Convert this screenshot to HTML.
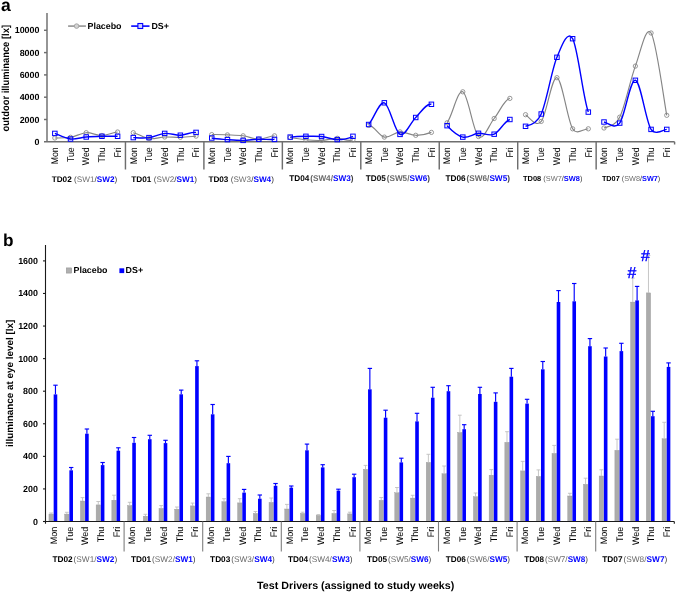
<!DOCTYPE html><html><head><meta charset="utf-8"><style>html,body{margin:0;padding:0;background:#fff;}svg{display:block;will-change:transform;}text{font-family:"Liberation Sans", sans-serif;text-rendering:geometricPrecision;}</style></head><body>
<svg width="685" height="592" viewBox="0 0 685 592">
<rect width="685" height="592" fill="#fff"/>
<text x="1.1" y="10.8" font-size="17.5" font-weight="bold" fill="#000">a</text>
<g stroke="#6e6e6e" stroke-width="1.45" fill="none">
<line x1="47.00" y1="13" x2="47.00" y2="141.80"/>
<line x1="44" y1="141.80" x2="674.60" y2="141.80"/>
<line x1="674.60" y1="141.80" x2="674.60" y2="144.5"/>
<line x1="44" y1="119.50" x2="47.00" y2="119.50"/>
<line x1="44" y1="97.20" x2="47.00" y2="97.20"/>
<line x1="44" y1="74.90" x2="47.00" y2="74.90"/>
<line x1="44" y1="52.60" x2="47.00" y2="52.60"/>
<line x1="44" y1="30.30" x2="47.00" y2="30.30"/>
<line x1="125.45" y1="141.80" x2="125.45" y2="169.5"/>
<line x1="203.90" y1="141.80" x2="203.90" y2="169.5"/>
<line x1="282.35" y1="141.80" x2="282.35" y2="169.5"/>
<line x1="360.80" y1="141.80" x2="360.80" y2="169.5"/>
<line x1="439.25" y1="141.80" x2="439.25" y2="169.5"/>
<line x1="517.70" y1="141.80" x2="517.70" y2="169.5"/>
<line x1="596.15" y1="141.80" x2="596.15" y2="169.5"/>
</g>
<g font-size="8.9" font-weight="bold" fill="#000" text-anchor="end">
<text x="39.4" y="144.80">0</text>
<text x="39.4" y="122.50">2000</text>
<text x="39.4" y="100.20">4000</text>
<text x="39.4" y="77.90">6000</text>
<text x="39.4" y="55.60">8000</text>
<text x="39.4" y="33.30">10000</text>
</g>
<text transform="translate(8.7,78.2) rotate(-90) scale(0.922,1)" font-size="10.2" font-weight="bold" text-anchor="middle" fill="#000">outdoor illuminance [lx]</text>
<g font-size="9.8" fill="#000" text-anchor="end">
<text transform="translate(58.05,147.4) rotate(-90) scale(0.89,1)">Mon</text>
<text transform="translate(73.73,147.4) rotate(-90) scale(0.89,1)">Tue</text>
<text transform="translate(89.42,147.4) rotate(-90) scale(0.89,1)">Wed</text>
<text transform="translate(105.12,147.4) rotate(-90) scale(0.89,1)">Thu</text>
<text transform="translate(120.81,147.4) rotate(-90) scale(0.89,1)">Fri</text>
<text transform="translate(136.50,147.4) rotate(-90) scale(0.89,1)">Mon</text>
<text transform="translate(152.19,147.4) rotate(-90) scale(0.89,1)">Tue</text>
<text transform="translate(167.88,147.4) rotate(-90) scale(0.89,1)">Wed</text>
<text transform="translate(183.56,147.4) rotate(-90) scale(0.89,1)">Thu</text>
<text transform="translate(199.25,147.4) rotate(-90) scale(0.89,1)">Fri</text>
<text transform="translate(214.94,147.4) rotate(-90) scale(0.89,1)">Mon</text>
<text transform="translate(230.63,147.4) rotate(-90) scale(0.89,1)">Tue</text>
<text transform="translate(246.33,147.4) rotate(-90) scale(0.89,1)">Wed</text>
<text transform="translate(262.02,147.4) rotate(-90) scale(0.89,1)">Thu</text>
<text transform="translate(277.70,147.4) rotate(-90) scale(0.89,1)">Fri</text>
<text transform="translate(293.40,147.4) rotate(-90) scale(0.89,1)">Mon</text>
<text transform="translate(309.09,147.4) rotate(-90) scale(0.89,1)">Tue</text>
<text transform="translate(324.78,147.4) rotate(-90) scale(0.89,1)">Wed</text>
<text transform="translate(340.47,147.4) rotate(-90) scale(0.89,1)">Thu</text>
<text transform="translate(356.16,147.4) rotate(-90) scale(0.89,1)">Fri</text>
<text transform="translate(371.85,147.4) rotate(-90) scale(0.89,1)">Mon</text>
<text transform="translate(387.54,147.4) rotate(-90) scale(0.89,1)">Tue</text>
<text transform="translate(403.23,147.4) rotate(-90) scale(0.89,1)">Wed</text>
<text transform="translate(418.92,147.4) rotate(-90) scale(0.89,1)">Thu</text>
<text transform="translate(434.61,147.4) rotate(-90) scale(0.89,1)">Fri</text>
<text transform="translate(450.30,147.4) rotate(-90) scale(0.89,1)">Mon</text>
<text transform="translate(465.99,147.4) rotate(-90) scale(0.89,1)">Tue</text>
<text transform="translate(481.68,147.4) rotate(-90) scale(0.89,1)">Wed</text>
<text transform="translate(497.37,147.4) rotate(-90) scale(0.89,1)">Thu</text>
<text transform="translate(513.06,147.4) rotate(-90) scale(0.89,1)">Fri</text>
<text transform="translate(528.75,147.4) rotate(-90) scale(0.89,1)">Mon</text>
<text transform="translate(544.44,147.4) rotate(-90) scale(0.89,1)">Tue</text>
<text transform="translate(560.13,147.4) rotate(-90) scale(0.89,1)">Wed</text>
<text transform="translate(575.82,147.4) rotate(-90) scale(0.89,1)">Thu</text>
<text transform="translate(591.51,147.4) rotate(-90) scale(0.89,1)">Fri</text>
<text transform="translate(607.20,147.4) rotate(-90) scale(0.89,1)">Mon</text>
<text transform="translate(622.89,147.4) rotate(-90) scale(0.89,1)">Tue</text>
<text transform="translate(638.58,147.4) rotate(-90) scale(0.89,1)">Wed</text>
<text transform="translate(654.27,147.4) rotate(-90) scale(0.89,1)">Thu</text>
<text transform="translate(669.96,147.4) rotate(-90) scale(0.89,1)">Fri</text>
</g>
<text x="51.70" y="181.70" font-size="8.10" textLength="65.50" lengthAdjust="spacingAndGlyphs" fill="#000"><tspan font-weight="bold">TD02</tspan><tspan fill="#505050"> (</tspan><tspan fill="#6e6e6e">SW1</tspan><tspan fill="#303030">/</tspan><tspan font-weight="bold" fill="#0000ff">SW2</tspan><tspan fill="#303030">)</tspan></text>
<text x="131.30" y="181.70" font-size="8.10" textLength="65.80" lengthAdjust="spacingAndGlyphs" fill="#000"><tspan font-weight="bold">TD01</tspan><tspan fill="#505050"> (</tspan><tspan fill="#6e6e6e">SW2</tspan><tspan fill="#303030">/</tspan><tspan font-weight="bold" fill="#0000ff">SW1</tspan><tspan fill="#303030">)</tspan></text>
<text x="208.40" y="181.70" font-size="8.10" textLength="65.50" lengthAdjust="spacingAndGlyphs" fill="#000"><tspan font-weight="bold">TD03</tspan><tspan fill="#505050"> (</tspan><tspan fill="#6e6e6e">SW3</tspan><tspan fill="#303030">/</tspan><tspan font-weight="bold" fill="#0000ff">SW4</tspan><tspan fill="#303030">)</tspan></text>
<text x="289.20" y="181.00" font-size="8.25" font-weight="bold" textLength="64.30" lengthAdjust="spacingAndGlyphs" fill="#000"><tspan>TD04</tspan><tspan dx="0.9" fill="#5a5a5a">(</tspan><tspan fill="#6a6a6a">SW4/</tspan><tspan fill="#0000ff">SW3</tspan><tspan fill="#404040">)</tspan></text>
<text x="365.70" y="181.00" font-size="8.25" font-weight="bold" textLength="64.30" lengthAdjust="spacingAndGlyphs" fill="#000"><tspan>TD05</tspan><tspan dx="0.9" fill="#5a5a5a">(</tspan><tspan fill="#6a6a6a">SW5/</tspan><tspan fill="#0000ff">SW6</tspan><tspan fill="#404040">)</tspan></text>
<text x="445.40" y="181.00" font-size="8.25" font-weight="bold" textLength="64.60" lengthAdjust="spacingAndGlyphs" fill="#000"><tspan>TD06</tspan><tspan dx="0.9" fill="#5a5a5a">(</tspan><tspan fill="#6a6a6a">SW6/</tspan><tspan fill="#0000ff">SW5</tspan><tspan fill="#404040">)</tspan></text>
<text x="523.00" y="181.10" font-size="7.35" textLength="59.40" lengthAdjust="spacingAndGlyphs" fill="#000"><tspan font-weight="bold">TD08</tspan><tspan fill="#505050"> (</tspan><tspan fill="#6e6e6e">SW7</tspan><tspan fill="#303030">/</tspan><tspan font-weight="bold" fill="#0000ff">SW8</tspan><tspan fill="#303030">)</tspan></text>
<text x="601.90" y="181.20" font-size="7.25" textLength="58.40" lengthAdjust="spacingAndGlyphs" fill="#000"><tspan font-weight="bold">TD07</tspan><tspan fill="#505050"> (</tspan><tspan fill="#6e6e6e">SW8</tspan><tspan fill="#303030">/</tspan><tspan font-weight="bold" fill="#0000ff">SW7</tspan><tspan fill="#303030">)</tspan></text>
<line x1="68.1" y1="26.1" x2="85.9" y2="26.1" stroke="#9a9a9a" stroke-width="1.7"/>
<circle cx="76.6" cy="26.1" r="2.3" fill="#d4d4d4" stroke="#a0a0a0" stroke-width="0.9"/>
<text x="87.5" y="28.8" font-size="8.9" font-weight="bold" fill="#000">Placebo</text>
<line x1="131.2" y1="26.1" x2="149.5" y2="26.1" stroke="#0000ff" stroke-width="1.6"/>
<rect x="137.9" y="23.5" width="4.8" height="5" fill="#cfcfff" stroke="#0000ff" stroke-width="1.1"/>
<text x="151.4" y="28.8" font-size="8.9" font-weight="bold" fill="#000">DS+</text>
<path d="M54.84,138.00 C57.46,137.88 65.30,138.18 70.53,137.30 C75.77,136.42 80.99,133.00 86.22,132.70 C91.45,132.40 96.69,135.62 101.92,135.50 C107.15,135.38 112.38,132.47 117.61,132.00" fill="none" stroke="#858585" stroke-width="1.15"/>
<path d="M133.30,132.70 C138.53,133.80 143.76,137.88 148.99,138.60 C154.22,139.32 159.45,137.22 164.68,137.00 C169.91,136.78 175.14,137.45 180.37,137.30 C185.59,137.15 190.83,136.55 196.06,136.10" fill="none" stroke="#858585" stroke-width="1.15"/>
<path d="M211.75,134.60 C216.97,134.40 222.20,134.70 227.44,134.90 C232.67,135.10 237.90,135.08 243.13,135.80 C248.36,136.52 253.59,139.20 258.82,139.20 C264.05,139.20 269.27,136.08 274.50,135.80" fill="none" stroke="#858585" stroke-width="1.15"/>
<path d="M290.20,137.50 C295.43,138.17 300.66,139.32 305.89,139.80 C311.12,140.28 316.35,140.65 321.58,140.40 C326.81,140.15 332.04,138.40 337.27,138.30 C342.50,138.20 347.73,141.95 352.96,139.80" fill="none" stroke="#858585" stroke-width="1.15"/>
<path d="M368.65,125.40 C373.88,124.95 379.11,136.02 384.34,137.10 C389.57,138.18 394.80,132.20 400.03,131.90 C405.26,131.60 410.49,135.22 415.72,135.30 C420.95,135.38 426.18,134.48 431.41,132.40" fill="none" stroke="#858585" stroke-width="1.15"/>
<path d="M447.10,122.80 C452.33,116.03 457.56,89.52 462.79,91.80 C468.02,94.08 473.25,132.05 478.48,136.50 C483.71,140.95 488.94,124.85 494.17,118.50 C499.40,112.15 504.62,99.03 509.86,98.40" fill="none" stroke="#858585" stroke-width="1.15"/>
<path d="M525.55,114.70 C530.78,118.53 536.00,127.57 541.24,121.40 C546.47,115.23 551.70,76.47 556.93,77.70 C562.16,78.93 567.38,120.28 572.62,128.80 C576.72,135.49 583.08,128.93 588.31,128.80" fill="none" stroke="#858585" stroke-width="1.15"/>
<path d="M604.00,128.00 C609.23,126.07 615.38,125.69 619.69,117.20 C624.92,106.88 630.14,80.13 635.38,66.10 C640.61,52.07 645.84,24.80 651.07,33.00 C656.30,41.20 664.14,101.58 666.75,115.30" fill="none" stroke="#858585" stroke-width="1.15"/>
<circle cx="54.84" cy="138.00" r="2.15" fill="none" stroke="#858585" stroke-width="0.85"/>
<circle cx="70.53" cy="137.30" r="2.15" fill="none" stroke="#858585" stroke-width="0.85"/>
<circle cx="86.22" cy="132.70" r="2.15" fill="none" stroke="#858585" stroke-width="0.85"/>
<circle cx="101.92" cy="135.50" r="2.15" fill="none" stroke="#858585" stroke-width="0.85"/>
<circle cx="117.61" cy="132.00" r="2.15" fill="none" stroke="#858585" stroke-width="0.85"/>
<circle cx="133.30" cy="132.70" r="2.15" fill="none" stroke="#858585" stroke-width="0.85"/>
<circle cx="148.99" cy="138.60" r="2.15" fill="none" stroke="#858585" stroke-width="0.85"/>
<circle cx="164.68" cy="137.00" r="2.15" fill="none" stroke="#858585" stroke-width="0.85"/>
<circle cx="180.37" cy="137.30" r="2.15" fill="none" stroke="#858585" stroke-width="0.85"/>
<circle cx="196.06" cy="136.10" r="2.15" fill="none" stroke="#858585" stroke-width="0.85"/>
<circle cx="211.75" cy="134.60" r="2.15" fill="none" stroke="#858585" stroke-width="0.85"/>
<circle cx="227.44" cy="134.90" r="2.15" fill="none" stroke="#858585" stroke-width="0.85"/>
<circle cx="243.13" cy="135.80" r="2.15" fill="none" stroke="#858585" stroke-width="0.85"/>
<circle cx="258.82" cy="139.20" r="2.15" fill="none" stroke="#858585" stroke-width="0.85"/>
<circle cx="274.50" cy="135.80" r="2.15" fill="none" stroke="#858585" stroke-width="0.85"/>
<circle cx="290.20" cy="137.50" r="2.15" fill="none" stroke="#858585" stroke-width="0.85"/>
<circle cx="305.89" cy="139.80" r="2.15" fill="none" stroke="#858585" stroke-width="0.85"/>
<circle cx="321.58" cy="140.40" r="2.15" fill="none" stroke="#858585" stroke-width="0.85"/>
<circle cx="337.27" cy="138.30" r="2.15" fill="none" stroke="#858585" stroke-width="0.85"/>
<circle cx="352.96" cy="139.80" r="2.15" fill="none" stroke="#858585" stroke-width="0.85"/>
<circle cx="368.65" cy="125.40" r="2.15" fill="none" stroke="#858585" stroke-width="0.85"/>
<circle cx="384.34" cy="137.10" r="2.15" fill="none" stroke="#858585" stroke-width="0.85"/>
<circle cx="400.03" cy="131.90" r="2.15" fill="none" stroke="#858585" stroke-width="0.85"/>
<circle cx="415.72" cy="135.30" r="2.15" fill="none" stroke="#858585" stroke-width="0.85"/>
<circle cx="431.41" cy="132.40" r="2.15" fill="none" stroke="#858585" stroke-width="0.85"/>
<circle cx="447.10" cy="122.80" r="2.15" fill="none" stroke="#858585" stroke-width="0.85"/>
<circle cx="462.79" cy="91.80" r="2.15" fill="none" stroke="#858585" stroke-width="0.85"/>
<circle cx="478.48" cy="136.50" r="2.15" fill="none" stroke="#858585" stroke-width="0.85"/>
<circle cx="494.17" cy="118.50" r="2.15" fill="none" stroke="#858585" stroke-width="0.85"/>
<circle cx="509.86" cy="98.40" r="2.15" fill="none" stroke="#858585" stroke-width="0.85"/>
<circle cx="525.55" cy="114.70" r="2.15" fill="none" stroke="#858585" stroke-width="0.85"/>
<circle cx="541.24" cy="121.40" r="2.15" fill="none" stroke="#858585" stroke-width="0.85"/>
<circle cx="556.93" cy="77.70" r="2.15" fill="none" stroke="#858585" stroke-width="0.85"/>
<circle cx="572.62" cy="128.80" r="2.15" fill="none" stroke="#858585" stroke-width="0.85"/>
<circle cx="588.31" cy="128.80" r="2.15" fill="none" stroke="#858585" stroke-width="0.85"/>
<circle cx="604.00" cy="128.00" r="2.15" fill="none" stroke="#858585" stroke-width="0.85"/>
<circle cx="619.69" cy="117.20" r="2.15" fill="none" stroke="#858585" stroke-width="0.85"/>
<circle cx="635.38" cy="66.10" r="2.15" fill="none" stroke="#858585" stroke-width="0.85"/>
<circle cx="651.07" cy="33.00" r="2.15" fill="none" stroke="#858585" stroke-width="0.85"/>
<circle cx="666.75" cy="115.30" r="2.15" fill="none" stroke="#858585" stroke-width="0.85"/>
<path d="M54.84,133.40 C57.46,134.33 65.30,138.40 70.53,139.00 C75.77,139.60 80.99,137.45 86.22,137.00 C91.45,136.55 96.69,136.42 101.92,136.30 C107.15,136.18 112.38,136.08 117.61,136.30" fill="none" stroke="#0000ff" stroke-width="1.4"/>
<path d="M133.30,137.60 C138.53,137.82 143.76,138.30 148.99,137.60 C154.22,136.90 159.45,133.80 164.68,133.40 C169.91,133.00 175.14,135.37 180.37,135.20 C185.59,135.03 190.83,131.93 196.06,132.40" fill="none" stroke="#0000ff" stroke-width="1.4"/>
<path d="M211.75,138.00 C216.97,139.20 222.20,139.20 227.44,139.60 C232.67,140.00 237.90,140.47 243.13,140.40 C248.36,140.33 253.59,139.37 258.82,139.20 C264.05,139.03 269.27,139.75 274.50,139.40" fill="none" stroke="#0000ff" stroke-width="1.4"/>
<path d="M290.20,137.10 C295.43,136.58 300.66,136.40 305.89,136.30 C311.12,136.20 316.35,135.95 321.58,136.50 C326.81,137.05 332.04,139.63 337.27,139.60 C342.50,139.57 347.73,138.82 352.96,136.30" fill="none" stroke="#0000ff" stroke-width="1.4"/>
<path d="M368.65,124.50 C373.88,118.92 379.11,101.15 384.34,102.80 C389.57,104.45 394.80,131.95 400.03,134.40 C405.26,136.85 410.49,122.52 415.72,117.50 C420.95,112.48 426.18,102.93 431.41,104.30" fill="none" stroke="#0000ff" stroke-width="1.4"/>
<path d="M447.10,125.70 C452.33,131.17 457.56,135.83 462.79,137.10 C468.02,138.37 473.25,133.78 478.48,133.30 C483.71,132.82 488.94,136.50 494.17,134.20 C499.40,131.90 504.62,120.82 509.86,119.50" fill="none" stroke="#0000ff" stroke-width="1.4"/>
<path d="M525.55,126.30 C530.78,125.38 537.11,123.07 541.24,114.00 C546.47,102.50 551.70,69.85 556.93,57.30 C561.61,46.07 567.38,29.57 572.62,38.70 C577.85,47.83 583.08,98.22 588.31,112.10" fill="none" stroke="#0000ff" stroke-width="1.4"/>
<path d="M604.00,122.00 C609.23,123.83 614.96,129.38 619.69,123.10 C624.92,116.15 630.14,79.25 635.38,80.30 C640.61,81.35 645.84,121.22 651.07,129.40 C655.29,136.01 664.14,129.40 666.75,129.40" fill="none" stroke="#0000ff" stroke-width="1.4"/>
<rect x="52.59" y="131.20" width="4.5" height="4.4" fill="none" stroke="#0000ff" stroke-width="1"/>
<rect x="68.28" y="136.80" width="4.5" height="4.4" fill="none" stroke="#0000ff" stroke-width="1"/>
<rect x="83.97" y="134.80" width="4.5" height="4.4" fill="none" stroke="#0000ff" stroke-width="1"/>
<rect x="99.67" y="134.10" width="4.5" height="4.4" fill="none" stroke="#0000ff" stroke-width="1"/>
<rect x="115.36" y="134.10" width="4.5" height="4.4" fill="none" stroke="#0000ff" stroke-width="1"/>
<rect x="131.05" y="135.40" width="4.5" height="4.4" fill="none" stroke="#0000ff" stroke-width="1"/>
<rect x="146.74" y="135.40" width="4.5" height="4.4" fill="none" stroke="#0000ff" stroke-width="1"/>
<rect x="162.43" y="131.20" width="4.5" height="4.4" fill="none" stroke="#0000ff" stroke-width="1"/>
<rect x="178.12" y="133.00" width="4.5" height="4.4" fill="none" stroke="#0000ff" stroke-width="1"/>
<rect x="193.81" y="130.20" width="4.5" height="4.4" fill="none" stroke="#0000ff" stroke-width="1"/>
<rect x="209.50" y="135.80" width="4.5" height="4.4" fill="none" stroke="#0000ff" stroke-width="1"/>
<rect x="225.19" y="137.40" width="4.5" height="4.4" fill="none" stroke="#0000ff" stroke-width="1"/>
<rect x="240.88" y="138.20" width="4.5" height="4.4" fill="none" stroke="#0000ff" stroke-width="1"/>
<rect x="256.57" y="137.00" width="4.5" height="4.4" fill="none" stroke="#0000ff" stroke-width="1"/>
<rect x="272.25" y="137.20" width="4.5" height="4.4" fill="none" stroke="#0000ff" stroke-width="1"/>
<rect x="287.95" y="134.90" width="4.5" height="4.4" fill="none" stroke="#0000ff" stroke-width="1"/>
<rect x="303.64" y="134.10" width="4.5" height="4.4" fill="none" stroke="#0000ff" stroke-width="1"/>
<rect x="319.33" y="134.30" width="4.5" height="4.4" fill="none" stroke="#0000ff" stroke-width="1"/>
<rect x="335.02" y="137.40" width="4.5" height="4.4" fill="none" stroke="#0000ff" stroke-width="1"/>
<rect x="350.71" y="134.10" width="4.5" height="4.4" fill="none" stroke="#0000ff" stroke-width="1"/>
<rect x="366.40" y="122.30" width="4.5" height="4.4" fill="none" stroke="#0000ff" stroke-width="1"/>
<rect x="382.09" y="100.60" width="4.5" height="4.4" fill="none" stroke="#0000ff" stroke-width="1"/>
<rect x="397.78" y="132.20" width="4.5" height="4.4" fill="none" stroke="#0000ff" stroke-width="1"/>
<rect x="413.47" y="115.30" width="4.5" height="4.4" fill="none" stroke="#0000ff" stroke-width="1"/>
<rect x="429.16" y="102.10" width="4.5" height="4.4" fill="none" stroke="#0000ff" stroke-width="1"/>
<rect x="444.85" y="123.50" width="4.5" height="4.4" fill="none" stroke="#0000ff" stroke-width="1"/>
<rect x="460.54" y="134.90" width="4.5" height="4.4" fill="none" stroke="#0000ff" stroke-width="1"/>
<rect x="476.23" y="131.10" width="4.5" height="4.4" fill="none" stroke="#0000ff" stroke-width="1"/>
<rect x="491.92" y="132.00" width="4.5" height="4.4" fill="none" stroke="#0000ff" stroke-width="1"/>
<rect x="507.61" y="117.30" width="4.5" height="4.4" fill="none" stroke="#0000ff" stroke-width="1"/>
<rect x="523.30" y="124.10" width="4.5" height="4.4" fill="none" stroke="#0000ff" stroke-width="1"/>
<rect x="538.99" y="111.80" width="4.5" height="4.4" fill="none" stroke="#0000ff" stroke-width="1"/>
<rect x="554.68" y="55.10" width="4.5" height="4.4" fill="none" stroke="#0000ff" stroke-width="1"/>
<rect x="570.37" y="36.50" width="4.5" height="4.4" fill="none" stroke="#0000ff" stroke-width="1"/>
<rect x="586.06" y="109.90" width="4.5" height="4.4" fill="none" stroke="#0000ff" stroke-width="1"/>
<rect x="601.75" y="119.80" width="4.5" height="4.4" fill="none" stroke="#0000ff" stroke-width="1"/>
<rect x="617.44" y="120.90" width="4.5" height="4.4" fill="none" stroke="#0000ff" stroke-width="1"/>
<rect x="633.12" y="78.10" width="4.5" height="4.4" fill="none" stroke="#0000ff" stroke-width="1"/>
<rect x="648.82" y="127.20" width="4.5" height="4.4" fill="none" stroke="#0000ff" stroke-width="1"/>
<rect x="664.50" y="127.20" width="4.5" height="4.4" fill="none" stroke="#0000ff" stroke-width="1"/>
<text x="2.9" y="246.1" font-size="17.2" font-weight="bold" fill="#000">b</text>
<rect x="66.3" y="267.9" width="5.4" height="5.2" fill="#b0b0b0" stroke="#909090" stroke-width="0.5"/>
<text x="73.6" y="273.4" font-size="8.85" font-weight="bold" fill="#000">Placebo</text>
<rect x="119.4" y="268.3" width="4.8" height="4.8" fill="#0000ff"/>
<text x="125.6" y="273.4" font-size="8.85" font-weight="bold" fill="#000">DS+</text>
<rect x="48.96" y="514.10" width="4.3" height="7.40" fill="#ababab" stroke="#999" stroke-width="0.4"/>
<line x1="51.11" y1="514.10" x2="51.11" y2="513.00" stroke="#c0c0c0" stroke-width="0.9"/>
<line x1="49.21" y1="513.00" x2="53.01" y2="513.00" stroke="#c0c0c0" stroke-width="0.9"/>
<rect x="53.66" y="394.40" width="3.6" height="127.10" fill="#0000ff"/>
<line x1="55.46" y1="394.40" x2="55.46" y2="385.20" stroke="#0000ff" stroke-width="1.15"/>
<line x1="53.26" y1="385.20" x2="57.66" y2="385.20" stroke="#0000ff" stroke-width="1.15"/>
<rect x="64.68" y="514.10" width="4.3" height="7.40" fill="#ababab" stroke="#999" stroke-width="0.4"/>
<line x1="66.83" y1="514.10" x2="66.83" y2="512.30" stroke="#c0c0c0" stroke-width="0.9"/>
<line x1="64.93" y1="512.30" x2="68.73" y2="512.30" stroke="#c0c0c0" stroke-width="0.9"/>
<rect x="69.38" y="470.30" width="3.6" height="51.20" fill="#0000ff"/>
<line x1="71.18" y1="470.30" x2="71.18" y2="467.50" stroke="#0000ff" stroke-width="1.15"/>
<line x1="68.98" y1="467.50" x2="73.38" y2="467.50" stroke="#0000ff" stroke-width="1.15"/>
<rect x="80.40" y="501.00" width="4.3" height="20.50" fill="#ababab" stroke="#999" stroke-width="0.4"/>
<line x1="82.55" y1="501.00" x2="82.55" y2="497.60" stroke="#c0c0c0" stroke-width="0.9"/>
<line x1="80.65" y1="497.60" x2="84.45" y2="497.60" stroke="#c0c0c0" stroke-width="0.9"/>
<rect x="85.10" y="433.70" width="3.6" height="87.80" fill="#0000ff"/>
<line x1="86.90" y1="433.70" x2="86.90" y2="429.00" stroke="#0000ff" stroke-width="1.15"/>
<line x1="84.70" y1="429.00" x2="89.10" y2="429.00" stroke="#0000ff" stroke-width="1.15"/>
<rect x="96.12" y="504.90" width="4.3" height="16.60" fill="#ababab" stroke="#999" stroke-width="0.4"/>
<line x1="98.27" y1="504.90" x2="98.27" y2="501.50" stroke="#c0c0c0" stroke-width="0.9"/>
<line x1="96.37" y1="501.50" x2="100.17" y2="501.50" stroke="#c0c0c0" stroke-width="0.9"/>
<rect x="100.82" y="465.10" width="3.6" height="56.40" fill="#0000ff"/>
<line x1="102.62" y1="465.10" x2="102.62" y2="462.50" stroke="#0000ff" stroke-width="1.15"/>
<line x1="100.42" y1="462.50" x2="104.82" y2="462.50" stroke="#0000ff" stroke-width="1.15"/>
<rect x="111.84" y="500.20" width="4.3" height="21.30" fill="#ababab" stroke="#999" stroke-width="0.4"/>
<line x1="113.99" y1="500.20" x2="113.99" y2="495.20" stroke="#c0c0c0" stroke-width="0.9"/>
<line x1="112.09" y1="495.20" x2="115.89" y2="495.20" stroke="#c0c0c0" stroke-width="0.9"/>
<rect x="116.54" y="450.70" width="3.6" height="70.80" fill="#0000ff"/>
<line x1="118.34" y1="450.70" x2="118.34" y2="447.80" stroke="#0000ff" stroke-width="1.15"/>
<line x1="116.14" y1="447.80" x2="120.54" y2="447.80" stroke="#0000ff" stroke-width="1.15"/>
<rect x="127.56" y="505.60" width="4.3" height="15.90" fill="#ababab" stroke="#999" stroke-width="0.4"/>
<line x1="129.71" y1="505.60" x2="129.71" y2="502.30" stroke="#c0c0c0" stroke-width="0.9"/>
<line x1="127.81" y1="502.30" x2="131.61" y2="502.30" stroke="#c0c0c0" stroke-width="0.9"/>
<rect x="132.26" y="442.80" width="3.6" height="78.70" fill="#0000ff"/>
<line x1="134.06" y1="442.80" x2="134.06" y2="437.50" stroke="#0000ff" stroke-width="1.15"/>
<line x1="131.86" y1="437.50" x2="136.26" y2="437.50" stroke="#0000ff" stroke-width="1.15"/>
<rect x="143.28" y="516.20" width="4.3" height="5.30" fill="#ababab" stroke="#999" stroke-width="0.4"/>
<line x1="145.43" y1="516.20" x2="145.43" y2="514.30" stroke="#c0c0c0" stroke-width="0.9"/>
<line x1="143.53" y1="514.30" x2="147.33" y2="514.30" stroke="#c0c0c0" stroke-width="0.9"/>
<rect x="147.98" y="439.20" width="3.6" height="82.30" fill="#0000ff"/>
<line x1="149.78" y1="439.20" x2="149.78" y2="435.30" stroke="#0000ff" stroke-width="1.15"/>
<line x1="147.58" y1="435.30" x2="151.98" y2="435.30" stroke="#0000ff" stroke-width="1.15"/>
<rect x="159.00" y="508.40" width="4.3" height="13.10" fill="#ababab" stroke="#999" stroke-width="0.4"/>
<line x1="161.15" y1="508.40" x2="161.15" y2="505.60" stroke="#c0c0c0" stroke-width="0.9"/>
<line x1="159.25" y1="505.60" x2="163.05" y2="505.60" stroke="#c0c0c0" stroke-width="0.9"/>
<rect x="163.70" y="443.10" width="3.6" height="78.40" fill="#0000ff"/>
<line x1="165.50" y1="443.10" x2="165.50" y2="440.30" stroke="#0000ff" stroke-width="1.15"/>
<line x1="163.30" y1="440.30" x2="167.70" y2="440.30" stroke="#0000ff" stroke-width="1.15"/>
<rect x="174.72" y="509.20" width="4.3" height="12.30" fill="#ababab" stroke="#999" stroke-width="0.4"/>
<line x1="176.87" y1="509.20" x2="176.87" y2="507.00" stroke="#c0c0c0" stroke-width="0.9"/>
<line x1="174.97" y1="507.00" x2="178.77" y2="507.00" stroke="#c0c0c0" stroke-width="0.9"/>
<rect x="179.42" y="394.30" width="3.6" height="127.20" fill="#0000ff"/>
<line x1="181.22" y1="394.30" x2="181.22" y2="390.10" stroke="#0000ff" stroke-width="1.15"/>
<line x1="179.02" y1="390.10" x2="183.42" y2="390.10" stroke="#0000ff" stroke-width="1.15"/>
<rect x="190.44" y="505.90" width="4.3" height="15.60" fill="#ababab" stroke="#999" stroke-width="0.4"/>
<line x1="192.59" y1="505.90" x2="192.59" y2="503.10" stroke="#c0c0c0" stroke-width="0.9"/>
<line x1="190.69" y1="503.10" x2="194.49" y2="503.10" stroke="#c0c0c0" stroke-width="0.9"/>
<rect x="195.14" y="366.10" width="3.6" height="155.40" fill="#0000ff"/>
<line x1="196.94" y1="366.10" x2="196.94" y2="360.80" stroke="#0000ff" stroke-width="1.15"/>
<line x1="194.74" y1="360.80" x2="199.14" y2="360.80" stroke="#0000ff" stroke-width="1.15"/>
<rect x="206.16" y="497.00" width="4.3" height="24.50" fill="#ababab" stroke="#999" stroke-width="0.4"/>
<line x1="208.31" y1="497.00" x2="208.31" y2="493.80" stroke="#c0c0c0" stroke-width="0.9"/>
<line x1="206.41" y1="493.80" x2="210.21" y2="493.80" stroke="#c0c0c0" stroke-width="0.9"/>
<rect x="210.86" y="414.30" width="3.6" height="107.20" fill="#0000ff"/>
<line x1="212.66" y1="414.30" x2="212.66" y2="404.50" stroke="#0000ff" stroke-width="1.15"/>
<line x1="210.46" y1="404.50" x2="214.86" y2="404.50" stroke="#0000ff" stroke-width="1.15"/>
<rect x="221.88" y="501.70" width="4.3" height="19.80" fill="#ababab" stroke="#999" stroke-width="0.4"/>
<line x1="224.03" y1="501.70" x2="224.03" y2="498.70" stroke="#c0c0c0" stroke-width="0.9"/>
<line x1="222.13" y1="498.70" x2="225.93" y2="498.70" stroke="#c0c0c0" stroke-width="0.9"/>
<rect x="226.58" y="463.20" width="3.6" height="58.30" fill="#0000ff"/>
<line x1="228.38" y1="463.20" x2="228.38" y2="456.40" stroke="#0000ff" stroke-width="1.15"/>
<line x1="226.18" y1="456.40" x2="230.58" y2="456.40" stroke="#0000ff" stroke-width="1.15"/>
<rect x="237.60" y="502.90" width="4.3" height="18.60" fill="#ababab" stroke="#999" stroke-width="0.4"/>
<line x1="239.75" y1="502.90" x2="239.75" y2="498.70" stroke="#c0c0c0" stroke-width="0.9"/>
<line x1="237.85" y1="498.70" x2="241.65" y2="498.70" stroke="#c0c0c0" stroke-width="0.9"/>
<rect x="242.30" y="492.60" width="3.6" height="28.90" fill="#0000ff"/>
<line x1="244.10" y1="492.60" x2="244.10" y2="489.40" stroke="#0000ff" stroke-width="1.15"/>
<line x1="241.90" y1="489.40" x2="246.30" y2="489.40" stroke="#0000ff" stroke-width="1.15"/>
<rect x="253.32" y="513.40" width="4.3" height="8.10" fill="#ababab" stroke="#999" stroke-width="0.4"/>
<line x1="255.47" y1="513.40" x2="255.47" y2="511.50" stroke="#c0c0c0" stroke-width="0.9"/>
<line x1="253.57" y1="511.50" x2="257.37" y2="511.50" stroke="#c0c0c0" stroke-width="0.9"/>
<rect x="258.02" y="498.70" width="3.6" height="22.80" fill="#0000ff"/>
<line x1="259.82" y1="498.70" x2="259.82" y2="495.00" stroke="#0000ff" stroke-width="1.15"/>
<line x1="257.62" y1="495.00" x2="262.02" y2="495.00" stroke="#0000ff" stroke-width="1.15"/>
<rect x="269.04" y="502.40" width="4.3" height="19.10" fill="#ababab" stroke="#999" stroke-width="0.4"/>
<line x1="271.19" y1="502.40" x2="271.19" y2="498.00" stroke="#c0c0c0" stroke-width="0.9"/>
<line x1="269.29" y1="498.00" x2="273.09" y2="498.00" stroke="#c0c0c0" stroke-width="0.9"/>
<rect x="273.74" y="485.80" width="3.6" height="35.70" fill="#0000ff"/>
<line x1="275.54" y1="485.80" x2="275.54" y2="483.50" stroke="#0000ff" stroke-width="1.15"/>
<line x1="273.34" y1="483.50" x2="277.74" y2="483.50" stroke="#0000ff" stroke-width="1.15"/>
<rect x="284.76" y="509.00" width="4.3" height="12.50" fill="#ababab" stroke="#999" stroke-width="0.4"/>
<line x1="286.91" y1="509.00" x2="286.91" y2="504.40" stroke="#c0c0c0" stroke-width="0.9"/>
<line x1="285.01" y1="504.40" x2="288.81" y2="504.40" stroke="#c0c0c0" stroke-width="0.9"/>
<rect x="289.46" y="487.70" width="3.6" height="33.80" fill="#0000ff"/>
<line x1="291.26" y1="487.70" x2="291.26" y2="486.00" stroke="#0000ff" stroke-width="1.15"/>
<line x1="289.06" y1="486.00" x2="293.46" y2="486.00" stroke="#0000ff" stroke-width="1.15"/>
<rect x="300.48" y="513.40" width="4.3" height="8.10" fill="#ababab" stroke="#999" stroke-width="0.4"/>
<line x1="302.63" y1="513.40" x2="302.63" y2="512.20" stroke="#c0c0c0" stroke-width="0.9"/>
<line x1="300.73" y1="512.20" x2="304.53" y2="512.20" stroke="#c0c0c0" stroke-width="0.9"/>
<rect x="305.18" y="450.30" width="3.6" height="71.20" fill="#0000ff"/>
<line x1="306.98" y1="450.30" x2="306.98" y2="444.10" stroke="#0000ff" stroke-width="1.15"/>
<line x1="304.78" y1="444.10" x2="309.18" y2="444.10" stroke="#0000ff" stroke-width="1.15"/>
<rect x="316.20" y="515.40" width="4.3" height="6.10" fill="#ababab" stroke="#999" stroke-width="0.4"/>
<line x1="318.35" y1="515.40" x2="318.35" y2="514.60" stroke="#c0c0c0" stroke-width="0.9"/>
<line x1="316.45" y1="514.60" x2="320.25" y2="514.60" stroke="#c0c0c0" stroke-width="0.9"/>
<rect x="320.90" y="467.40" width="3.6" height="54.10" fill="#0000ff"/>
<line x1="322.70" y1="467.40" x2="322.70" y2="464.70" stroke="#0000ff" stroke-width="1.15"/>
<line x1="320.50" y1="464.70" x2="324.90" y2="464.70" stroke="#0000ff" stroke-width="1.15"/>
<rect x="331.92" y="513.40" width="4.3" height="8.10" fill="#ababab" stroke="#999" stroke-width="0.4"/>
<line x1="334.07" y1="513.40" x2="334.07" y2="510.50" stroke="#c0c0c0" stroke-width="0.9"/>
<line x1="332.17" y1="510.50" x2="335.97" y2="510.50" stroke="#c0c0c0" stroke-width="0.9"/>
<rect x="336.62" y="490.60" width="3.6" height="30.90" fill="#0000ff"/>
<line x1="338.42" y1="490.60" x2="338.42" y2="489.20" stroke="#0000ff" stroke-width="1.15"/>
<line x1="336.22" y1="489.20" x2="340.62" y2="489.20" stroke="#0000ff" stroke-width="1.15"/>
<rect x="347.64" y="513.90" width="4.3" height="7.60" fill="#ababab" stroke="#999" stroke-width="0.4"/>
<line x1="349.79" y1="513.90" x2="349.79" y2="512.20" stroke="#c0c0c0" stroke-width="0.9"/>
<line x1="347.89" y1="512.20" x2="351.69" y2="512.20" stroke="#c0c0c0" stroke-width="0.9"/>
<rect x="352.34" y="477.20" width="3.6" height="44.30" fill="#0000ff"/>
<line x1="354.14" y1="477.20" x2="354.14" y2="474.20" stroke="#0000ff" stroke-width="1.15"/>
<line x1="351.94" y1="474.20" x2="356.34" y2="474.20" stroke="#0000ff" stroke-width="1.15"/>
<rect x="363.36" y="469.30" width="4.3" height="52.20" fill="#ababab" stroke="#999" stroke-width="0.4"/>
<line x1="365.51" y1="469.30" x2="365.51" y2="465.40" stroke="#c0c0c0" stroke-width="0.9"/>
<line x1="363.61" y1="465.40" x2="367.41" y2="465.40" stroke="#c0c0c0" stroke-width="0.9"/>
<rect x="368.06" y="389.30" width="3.6" height="132.20" fill="#0000ff"/>
<line x1="369.86" y1="389.30" x2="369.86" y2="368.40" stroke="#0000ff" stroke-width="1.15"/>
<line x1="367.66" y1="368.40" x2="372.06" y2="368.40" stroke="#0000ff" stroke-width="1.15"/>
<rect x="379.08" y="500.30" width="4.3" height="21.20" fill="#ababab" stroke="#999" stroke-width="0.4"/>
<line x1="381.23" y1="500.30" x2="381.23" y2="497.50" stroke="#c0c0c0" stroke-width="0.9"/>
<line x1="379.33" y1="497.50" x2="383.13" y2="497.50" stroke="#c0c0c0" stroke-width="0.9"/>
<rect x="383.78" y="417.70" width="3.6" height="103.80" fill="#0000ff"/>
<line x1="385.58" y1="417.70" x2="385.58" y2="410.20" stroke="#0000ff" stroke-width="1.15"/>
<line x1="383.38" y1="410.20" x2="387.78" y2="410.20" stroke="#0000ff" stroke-width="1.15"/>
<rect x="394.80" y="492.80" width="4.3" height="28.70" fill="#ababab" stroke="#999" stroke-width="0.4"/>
<line x1="396.95" y1="492.80" x2="396.95" y2="487.50" stroke="#c0c0c0" stroke-width="0.9"/>
<line x1="395.05" y1="487.50" x2="398.85" y2="487.50" stroke="#c0c0c0" stroke-width="0.9"/>
<rect x="399.50" y="462.40" width="3.6" height="59.10" fill="#0000ff"/>
<line x1="401.30" y1="462.40" x2="401.30" y2="458.20" stroke="#0000ff" stroke-width="1.15"/>
<line x1="399.10" y1="458.20" x2="403.50" y2="458.20" stroke="#0000ff" stroke-width="1.15"/>
<rect x="410.52" y="498.10" width="4.3" height="23.40" fill="#ababab" stroke="#999" stroke-width="0.4"/>
<line x1="412.67" y1="498.10" x2="412.67" y2="495.30" stroke="#c0c0c0" stroke-width="0.9"/>
<line x1="410.77" y1="495.30" x2="414.57" y2="495.30" stroke="#c0c0c0" stroke-width="0.9"/>
<rect x="415.22" y="421.40" width="3.6" height="100.10" fill="#0000ff"/>
<line x1="417.02" y1="421.40" x2="417.02" y2="413.30" stroke="#0000ff" stroke-width="1.15"/>
<line x1="414.82" y1="413.30" x2="419.22" y2="413.30" stroke="#0000ff" stroke-width="1.15"/>
<rect x="426.24" y="462.40" width="4.3" height="59.10" fill="#ababab" stroke="#999" stroke-width="0.4"/>
<line x1="428.39" y1="462.40" x2="428.39" y2="454.30" stroke="#c0c0c0" stroke-width="0.9"/>
<line x1="426.49" y1="454.30" x2="430.29" y2="454.30" stroke="#c0c0c0" stroke-width="0.9"/>
<rect x="430.94" y="397.70" width="3.6" height="123.80" fill="#0000ff"/>
<line x1="432.74" y1="397.70" x2="432.74" y2="387.30" stroke="#0000ff" stroke-width="1.15"/>
<line x1="430.54" y1="387.30" x2="434.94" y2="387.30" stroke="#0000ff" stroke-width="1.15"/>
<rect x="441.96" y="473.80" width="4.3" height="47.70" fill="#ababab" stroke="#999" stroke-width="0.4"/>
<line x1="444.11" y1="473.80" x2="444.11" y2="466.00" stroke="#c0c0c0" stroke-width="0.9"/>
<line x1="442.21" y1="466.00" x2="446.01" y2="466.00" stroke="#c0c0c0" stroke-width="0.9"/>
<rect x="446.66" y="391.20" width="3.6" height="130.30" fill="#0000ff"/>
<line x1="448.46" y1="391.20" x2="448.46" y2="385.70" stroke="#0000ff" stroke-width="1.15"/>
<line x1="446.26" y1="385.70" x2="450.66" y2="385.70" stroke="#0000ff" stroke-width="1.15"/>
<rect x="457.68" y="432.50" width="4.3" height="89.00" fill="#ababab" stroke="#999" stroke-width="0.4"/>
<line x1="459.83" y1="432.50" x2="459.83" y2="415.20" stroke="#c0c0c0" stroke-width="0.9"/>
<line x1="457.93" y1="415.20" x2="461.73" y2="415.20" stroke="#c0c0c0" stroke-width="0.9"/>
<rect x="462.38" y="429.20" width="3.6" height="92.30" fill="#0000ff"/>
<line x1="464.18" y1="429.20" x2="464.18" y2="424.70" stroke="#0000ff" stroke-width="1.15"/>
<line x1="461.98" y1="424.70" x2="466.38" y2="424.70" stroke="#0000ff" stroke-width="1.15"/>
<rect x="473.40" y="496.70" width="4.3" height="24.80" fill="#ababab" stroke="#999" stroke-width="0.4"/>
<line x1="475.55" y1="496.70" x2="475.55" y2="493.00" stroke="#c0c0c0" stroke-width="0.9"/>
<line x1="473.65" y1="493.00" x2="477.45" y2="493.00" stroke="#c0c0c0" stroke-width="0.9"/>
<rect x="478.10" y="394.00" width="3.6" height="127.50" fill="#0000ff"/>
<line x1="479.90" y1="394.00" x2="479.90" y2="387.30" stroke="#0000ff" stroke-width="1.15"/>
<line x1="477.70" y1="387.30" x2="482.10" y2="387.30" stroke="#0000ff" stroke-width="1.15"/>
<rect x="489.12" y="475.20" width="4.3" height="46.30" fill="#ababab" stroke="#999" stroke-width="0.4"/>
<line x1="491.27" y1="475.20" x2="491.27" y2="469.60" stroke="#c0c0c0" stroke-width="0.9"/>
<line x1="489.37" y1="469.60" x2="493.17" y2="469.60" stroke="#c0c0c0" stroke-width="0.9"/>
<rect x="493.82" y="401.80" width="3.6" height="119.70" fill="#0000ff"/>
<line x1="495.62" y1="401.80" x2="495.62" y2="392.90" stroke="#0000ff" stroke-width="1.15"/>
<line x1="493.42" y1="392.90" x2="497.82" y2="392.90" stroke="#0000ff" stroke-width="1.15"/>
<rect x="504.84" y="442.30" width="4.3" height="79.20" fill="#ababab" stroke="#999" stroke-width="0.4"/>
<line x1="506.99" y1="442.30" x2="506.99" y2="431.70" stroke="#c0c0c0" stroke-width="0.9"/>
<line x1="505.09" y1="431.70" x2="508.89" y2="431.70" stroke="#c0c0c0" stroke-width="0.9"/>
<rect x="509.54" y="376.70" width="3.6" height="144.80" fill="#0000ff"/>
<line x1="511.34" y1="376.70" x2="511.34" y2="368.40" stroke="#0000ff" stroke-width="1.15"/>
<line x1="509.14" y1="368.40" x2="513.54" y2="368.40" stroke="#0000ff" stroke-width="1.15"/>
<rect x="520.56" y="470.90" width="4.3" height="50.60" fill="#ababab" stroke="#999" stroke-width="0.4"/>
<line x1="522.71" y1="470.90" x2="522.71" y2="461.40" stroke="#c0c0c0" stroke-width="0.9"/>
<line x1="520.81" y1="461.40" x2="524.61" y2="461.40" stroke="#c0c0c0" stroke-width="0.9"/>
<rect x="525.26" y="403.60" width="3.6" height="117.90" fill="#0000ff"/>
<line x1="527.06" y1="403.60" x2="527.06" y2="399.30" stroke="#0000ff" stroke-width="1.15"/>
<line x1="524.86" y1="399.30" x2="529.26" y2="399.30" stroke="#0000ff" stroke-width="1.15"/>
<rect x="536.28" y="476.40" width="4.3" height="45.10" fill="#ababab" stroke="#999" stroke-width="0.4"/>
<line x1="538.43" y1="476.40" x2="538.43" y2="469.90" stroke="#c0c0c0" stroke-width="0.9"/>
<line x1="536.53" y1="469.90" x2="540.33" y2="469.90" stroke="#c0c0c0" stroke-width="0.9"/>
<rect x="540.98" y="369.30" width="3.6" height="152.20" fill="#0000ff"/>
<line x1="542.78" y1="369.30" x2="542.78" y2="361.50" stroke="#0000ff" stroke-width="1.15"/>
<line x1="540.58" y1="361.50" x2="544.98" y2="361.50" stroke="#0000ff" stroke-width="1.15"/>
<rect x="552.00" y="453.40" width="4.3" height="68.10" fill="#ababab" stroke="#999" stroke-width="0.4"/>
<line x1="554.15" y1="453.40" x2="554.15" y2="445.40" stroke="#c0c0c0" stroke-width="0.9"/>
<line x1="552.25" y1="445.40" x2="556.05" y2="445.40" stroke="#c0c0c0" stroke-width="0.9"/>
<rect x="556.70" y="302.00" width="3.6" height="219.50" fill="#0000ff"/>
<line x1="558.50" y1="302.00" x2="558.50" y2="290.60" stroke="#0000ff" stroke-width="1.15"/>
<line x1="556.30" y1="290.60" x2="560.70" y2="290.60" stroke="#0000ff" stroke-width="1.15"/>
<rect x="567.72" y="496.00" width="4.3" height="25.50" fill="#ababab" stroke="#999" stroke-width="0.4"/>
<line x1="569.87" y1="496.00" x2="569.87" y2="493.30" stroke="#c0c0c0" stroke-width="0.9"/>
<line x1="567.97" y1="493.30" x2="571.77" y2="493.30" stroke="#c0c0c0" stroke-width="0.9"/>
<rect x="572.42" y="301.30" width="3.6" height="220.20" fill="#0000ff"/>
<line x1="574.22" y1="301.30" x2="574.22" y2="283.50" stroke="#0000ff" stroke-width="1.15"/>
<line x1="572.02" y1="283.50" x2="576.42" y2="283.50" stroke="#0000ff" stroke-width="1.15"/>
<rect x="583.44" y="484.30" width="4.3" height="37.20" fill="#ababab" stroke="#999" stroke-width="0.4"/>
<line x1="585.59" y1="484.30" x2="585.59" y2="478.20" stroke="#c0c0c0" stroke-width="0.9"/>
<line x1="583.69" y1="478.20" x2="587.49" y2="478.20" stroke="#c0c0c0" stroke-width="0.9"/>
<rect x="588.14" y="346.20" width="3.6" height="175.30" fill="#0000ff"/>
<line x1="589.94" y1="346.20" x2="589.94" y2="338.60" stroke="#0000ff" stroke-width="1.15"/>
<line x1="587.74" y1="338.60" x2="592.14" y2="338.60" stroke="#0000ff" stroke-width="1.15"/>
<rect x="599.16" y="476.00" width="4.3" height="45.50" fill="#ababab" stroke="#999" stroke-width="0.4"/>
<line x1="601.31" y1="476.00" x2="601.31" y2="469.80" stroke="#c0c0c0" stroke-width="0.9"/>
<line x1="599.41" y1="469.80" x2="603.21" y2="469.80" stroke="#c0c0c0" stroke-width="0.9"/>
<rect x="603.86" y="356.50" width="3.6" height="165.00" fill="#0000ff"/>
<line x1="605.66" y1="356.50" x2="605.66" y2="348.00" stroke="#0000ff" stroke-width="1.15"/>
<line x1="603.46" y1="348.00" x2="607.86" y2="348.00" stroke="#0000ff" stroke-width="1.15"/>
<rect x="614.88" y="450.30" width="4.3" height="71.20" fill="#ababab" stroke="#999" stroke-width="0.4"/>
<line x1="617.03" y1="450.30" x2="617.03" y2="439.20" stroke="#c0c0c0" stroke-width="0.9"/>
<line x1="615.13" y1="439.20" x2="618.93" y2="439.20" stroke="#c0c0c0" stroke-width="0.9"/>
<rect x="619.58" y="351.10" width="3.6" height="170.40" fill="#0000ff"/>
<line x1="621.38" y1="351.10" x2="621.38" y2="343.30" stroke="#0000ff" stroke-width="1.15"/>
<line x1="619.18" y1="343.30" x2="623.58" y2="343.30" stroke="#0000ff" stroke-width="1.15"/>
<rect x="630.60" y="302.10" width="4.3" height="219.40" fill="#ababab" stroke="#999" stroke-width="0.4"/>
<line x1="632.75" y1="302.10" x2="632.75" y2="278.10" stroke="#c0c0c0" stroke-width="0.9"/>
<line x1="630.85" y1="278.10" x2="634.65" y2="278.10" stroke="#c0c0c0" stroke-width="0.9"/>
<rect x="635.30" y="300.40" width="3.6" height="221.10" fill="#0000ff"/>
<line x1="637.10" y1="300.40" x2="637.10" y2="286.40" stroke="#0000ff" stroke-width="1.15"/>
<line x1="634.90" y1="286.40" x2="639.30" y2="286.40" stroke="#0000ff" stroke-width="1.15"/>
<rect x="646.32" y="292.90" width="4.3" height="228.60" fill="#ababab" stroke="#999" stroke-width="0.4"/>
<line x1="648.47" y1="292.90" x2="648.47" y2="255.50" stroke="#c0c0c0" stroke-width="0.9"/>
<line x1="646.57" y1="255.50" x2="650.37" y2="255.50" stroke="#c0c0c0" stroke-width="0.9"/>
<rect x="651.02" y="416.20" width="3.6" height="105.30" fill="#0000ff"/>
<line x1="652.82" y1="416.20" x2="652.82" y2="411.30" stroke="#0000ff" stroke-width="1.15"/>
<line x1="650.62" y1="411.30" x2="655.02" y2="411.30" stroke="#0000ff" stroke-width="1.15"/>
<rect x="662.04" y="438.80" width="4.3" height="82.70" fill="#ababab" stroke="#999" stroke-width="0.4"/>
<line x1="664.19" y1="438.80" x2="664.19" y2="422.30" stroke="#c0c0c0" stroke-width="0.9"/>
<line x1="662.29" y1="422.30" x2="666.09" y2="422.30" stroke="#c0c0c0" stroke-width="0.9"/>
<rect x="666.74" y="366.90" width="3.6" height="154.60" fill="#0000ff"/>
<line x1="668.54" y1="366.90" x2="668.54" y2="362.90" stroke="#0000ff" stroke-width="1.15"/>
<line x1="666.34" y1="362.90" x2="670.74" y2="362.90" stroke="#0000ff" stroke-width="1.15"/>
<text x="627.5" y="278.0" font-size="15.8" fill="#0000ff" stroke="#0000ff" stroke-width="0.4">#</text>
<text x="640.9" y="260.5" font-size="15.8" fill="#0000ff" stroke="#0000ff" stroke-width="0.4">#</text>
<g stroke="#1a1a1a" stroke-width="1.1" fill="none">
<line x1="45.50" y1="245" x2="45.50" y2="523.8"/>
<line x1="45.50" y1="521.50" x2="674.30" y2="521.50"/>
<line x1="674.30" y1="521.50" x2="674.30" y2="523.8"/>
<line x1="43" y1="521.50" x2="45.50" y2="521.50"/>
<line x1="43" y1="488.93" x2="45.50" y2="488.93"/>
<line x1="43" y1="456.35" x2="45.50" y2="456.35"/>
<line x1="43" y1="423.77" x2="45.50" y2="423.77"/>
<line x1="43" y1="391.20" x2="45.50" y2="391.20"/>
<line x1="43" y1="358.62" x2="45.50" y2="358.62"/>
<line x1="43" y1="326.05" x2="45.50" y2="326.05"/>
<line x1="43" y1="293.47" x2="45.50" y2="293.47"/>
<line x1="43" y1="260.90" x2="45.50" y2="260.90"/>
</g>
<g stroke="#7f7f7f" stroke-width="1.1">
<line x1="124.10" y1="521.50" x2="124.10" y2="551.5"/>
<line x1="202.70" y1="521.50" x2="202.70" y2="551.5"/>
<line x1="281.30" y1="521.50" x2="281.30" y2="551.5"/>
<line x1="359.90" y1="521.50" x2="359.90" y2="551.5"/>
<line x1="438.50" y1="521.50" x2="438.50" y2="551.5"/>
<line x1="517.10" y1="521.50" x2="517.10" y2="551.5"/>
<line x1="595.70" y1="521.50" x2="595.70" y2="551.5"/>
</g>
<g font-size="8.9" font-weight="bold" fill="#000" text-anchor="end">
<text x="37.9" y="524.50">0</text>
<text x="37.9" y="491.93">200</text>
<text x="37.9" y="459.35">400</text>
<text x="37.9" y="426.77">600</text>
<text x="37.9" y="394.20">800</text>
<text x="37.9" y="361.62">1000</text>
<text x="37.9" y="329.05">1200</text>
<text x="37.9" y="296.47">1400</text>
<text x="37.9" y="263.90">1600</text>
</g>
<text transform="translate(13.4,383.4) rotate(-90)" font-size="9.9" font-weight="bold" text-anchor="middle" fill="#000">illuminance at eye level [lx]</text>
<g font-size="9.5" fill="#000" text-anchor="end">
<text transform="translate(56.86,526.7) rotate(-90) scale(0.95,1)">Mon</text>
<text transform="translate(72.58,526.7) rotate(-90) scale(0.95,1)">Tue</text>
<text transform="translate(88.30,526.7) rotate(-90) scale(0.95,1)">Wed</text>
<text transform="translate(104.02,526.7) rotate(-90) scale(0.95,1)">Thu</text>
<text transform="translate(119.74,526.7) rotate(-90) scale(0.95,1)">Fri</text>
<text transform="translate(135.46,526.7) rotate(-90) scale(0.95,1)">Mon</text>
<text transform="translate(151.18,526.7) rotate(-90) scale(0.95,1)">Tue</text>
<text transform="translate(166.90,526.7) rotate(-90) scale(0.95,1)">Wed</text>
<text transform="translate(182.62,526.7) rotate(-90) scale(0.95,1)">Thu</text>
<text transform="translate(198.34,526.7) rotate(-90) scale(0.95,1)">Fri</text>
<text transform="translate(214.06,526.7) rotate(-90) scale(0.95,1)">Mon</text>
<text transform="translate(229.78,526.7) rotate(-90) scale(0.95,1)">Tue</text>
<text transform="translate(245.50,526.7) rotate(-90) scale(0.95,1)">Wed</text>
<text transform="translate(261.22,526.7) rotate(-90) scale(0.95,1)">Thu</text>
<text transform="translate(276.94,526.7) rotate(-90) scale(0.95,1)">Fri</text>
<text transform="translate(292.66,526.7) rotate(-90) scale(0.95,1)">Mon</text>
<text transform="translate(308.38,526.7) rotate(-90) scale(0.95,1)">Tue</text>
<text transform="translate(324.10,526.7) rotate(-90) scale(0.95,1)">Wed</text>
<text transform="translate(339.82,526.7) rotate(-90) scale(0.95,1)">Thu</text>
<text transform="translate(355.54,526.7) rotate(-90) scale(0.95,1)">Fri</text>
<text transform="translate(371.26,526.7) rotate(-90) scale(0.95,1)">Mon</text>
<text transform="translate(386.98,526.7) rotate(-90) scale(0.95,1)">Tue</text>
<text transform="translate(402.70,526.7) rotate(-90) scale(0.95,1)">Wed</text>
<text transform="translate(418.42,526.7) rotate(-90) scale(0.95,1)">Thu</text>
<text transform="translate(434.14,526.7) rotate(-90) scale(0.95,1)">Fri</text>
<text transform="translate(449.86,526.7) rotate(-90) scale(0.95,1)">Mon</text>
<text transform="translate(465.58,526.7) rotate(-90) scale(0.95,1)">Tue</text>
<text transform="translate(481.30,526.7) rotate(-90) scale(0.95,1)">Wed</text>
<text transform="translate(497.02,526.7) rotate(-90) scale(0.95,1)">Thu</text>
<text transform="translate(512.74,526.7) rotate(-90) scale(0.95,1)">Fri</text>
<text transform="translate(528.46,526.7) rotate(-90) scale(0.95,1)">Mon</text>
<text transform="translate(544.18,526.7) rotate(-90) scale(0.95,1)">Tue</text>
<text transform="translate(559.90,526.7) rotate(-90) scale(0.95,1)">Wed</text>
<text transform="translate(575.62,526.7) rotate(-90) scale(0.95,1)">Thu</text>
<text transform="translate(591.34,526.7) rotate(-90) scale(0.95,1)">Fri</text>
<text transform="translate(607.06,526.7) rotate(-90) scale(0.95,1)">Mon</text>
<text transform="translate(622.78,526.7) rotate(-90) scale(0.95,1)">Tue</text>
<text transform="translate(638.50,526.7) rotate(-90) scale(0.95,1)">Wed</text>
<text transform="translate(654.22,526.7) rotate(-90) scale(0.95,1)">Thu</text>
<text transform="translate(669.94,526.7) rotate(-90) scale(0.95,1)">Fri</text>
</g>
<text x="52.50" y="562.30" font-size="8.26" textLength="64.70" lengthAdjust="spacingAndGlyphs" fill="#000"><tspan font-weight="bold">TD02</tspan><tspan dx="0.9" fill="#5a5a5a">(</tspan><tspan fill="#6a6a6a">SW1/</tspan><tspan font-weight="bold" fill="#0000ff">SW2</tspan><tspan fill="#404040">)</tspan></text>
<text x="131.00" y="562.30" font-size="8.26" textLength="64.60" lengthAdjust="spacingAndGlyphs" fill="#000"><tspan font-weight="bold">TD01</tspan><tspan dx="0.9" fill="#5a5a5a">(</tspan><tspan fill="#6a6a6a">SW2/</tspan><tspan font-weight="bold" fill="#0000ff">SW1</tspan><tspan fill="#404040">)</tspan></text>
<text x="210.10" y="562.30" font-size="8.26" textLength="64.70" lengthAdjust="spacingAndGlyphs" fill="#000"><tspan font-weight="bold">TD03</tspan><tspan dx="0.9" fill="#5a5a5a">(</tspan><tspan fill="#6a6a6a">SW3/</tspan><tspan font-weight="bold" fill="#0000ff">SW4</tspan><tspan fill="#404040">)</tspan></text>
<text x="288.00" y="562.30" font-size="8.26" textLength="64.50" lengthAdjust="spacingAndGlyphs" fill="#000"><tspan font-weight="bold">TD04</tspan><tspan dx="0.9" fill="#5a5a5a">(</tspan><tspan fill="#6a6a6a">SW4/</tspan><tspan font-weight="bold" fill="#0000ff">SW3</tspan><tspan fill="#404040">)</tspan></text>
<text x="367.00" y="562.30" font-size="8.26" textLength="64.30" lengthAdjust="spacingAndGlyphs" fill="#000"><tspan font-weight="bold">TD05</tspan><tspan dx="0.9" fill="#5a5a5a">(</tspan><tspan fill="#6a6a6a">SW5/</tspan><tspan font-weight="bold" fill="#0000ff">SW6</tspan><tspan fill="#404040">)</tspan></text>
<text x="445.70" y="562.30" font-size="8.26" textLength="64.30" lengthAdjust="spacingAndGlyphs" fill="#000"><tspan font-weight="bold">TD06</tspan><tspan dx="0.9" fill="#5a5a5a">(</tspan><tspan fill="#6a6a6a">SW6/</tspan><tspan font-weight="bold" fill="#0000ff">SW5</tspan><tspan fill="#404040">)</tspan></text>
<text x="524.20" y="562.30" font-size="8.26" textLength="63.80" lengthAdjust="spacingAndGlyphs" fill="#000"><tspan font-weight="bold">TD08</tspan><tspan dx="0.9" fill="#5a5a5a">(</tspan><tspan fill="#6a6a6a">SW7/</tspan><tspan font-weight="bold" fill="#0000ff">SW8</tspan><tspan fill="#404040">)</tspan></text>
<text x="602.20" y="562.30" font-size="8.26" textLength="65.10" lengthAdjust="spacingAndGlyphs" fill="#000"><tspan font-weight="bold">TD07</tspan><tspan dx="0.9" fill="#5a5a5a">(</tspan><tspan fill="#6a6a6a">SW8/</tspan><tspan font-weight="bold" fill="#0000ff">SW7</tspan><tspan fill="#404040">)</tspan></text>
<text x="257.1" y="588.5" font-size="10.6" font-weight="bold" fill="#000" textLength="197.2" lengthAdjust="spacingAndGlyphs">Test Drivers (assigned to study weeks)</text>
</svg></body></html>
